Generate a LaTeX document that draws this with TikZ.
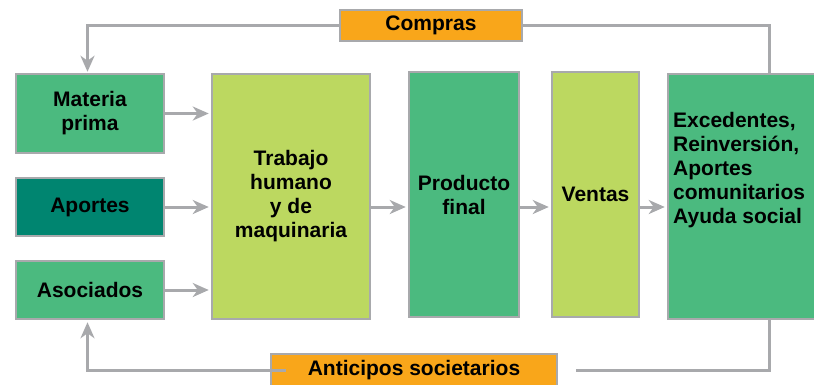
\documentclass[tikz,border=0pt]{standalone}
\usepackage{fontspec}
\setmainfont{Liberation Sans}
\usetikzlibrary{arrows.meta}
\definecolor{verde}{RGB}{75,186,127}
\definecolor{verdeosc}{RGB}{0,133,112}
\definecolor{lima}{RGB}{188,216,96}
\definecolor{naranja}{RGB}{249,166,26}
\definecolor{gris}{RGB}{168,169,172}
\tikzset{
caja/.style={draw=gris,line width=2.5pt,inner sep=0pt,align=center,
  font=\bfseries\fontsize{21}{24}\selectfont},
texto/.style={inner sep=0pt,align=left,font=\bfseries\fontsize{21}{24}\selectfont},
linea/.style={draw=gris,line width=3pt},
flecha/.style={linea,-{Stealth[length=16pt,width=14pt,inset=5pt]},shorten >=2pt}
}
\begin{document}
\begin{tikzpicture}[x=1pt,y=-1pt]
\useasboundingbox (0,0) rectangle (814,384);

\node[caja,fill=verde,minimum width=148pt,minimum height=79pt] (mat) at (90,113.5) {Materia\\prima};
\node[caja,fill=verdeosc,minimum width=148pt,minimum height=58pt] (apo) at (90,207) {Aportes};
\node[caja,fill=verde,minimum width=148pt,minimum height=58pt] (aso) at (90,290) {Asociados};
\node[caja,fill=lima,minimum width=158pt,minimum height=245pt] (trab) at (291,196.5) {Trabajo\\humano\\y de\\maquinaria};
\node[caja,fill=verde,minimum width=110pt,minimum height=245pt] (prod) at (464,194.5) {Producto\\final};
\node[caja,fill=lima,minimum width=87pt,minimum height=245pt] (ven) at (595.5,194.5) {Ventas};
\node[caja,fill=verde,minimum width=156pt,minimum height=245pt] (exc) at (746,196.5) {};
\node[texto,anchor=north west] (exctexto) at (673,112) {Excedentes,\\Reinversión,\\Aportes\\comunitarios\\Ayuda social};
\node[caja,fill=naranja,minimum width=182pt,minimum height=31pt] (comp) at (431,25.5) {Compras};
\node[caja,fill=naranja,minimum width=286pt,minimum height=32pt] (anti) at (414,370) {Anticipos societarios};

\coordinate (fila) at (0,207);
\coordinate (der) at (769,0);

\draw[flecha] (mat.east) -- (trab.west |- mat.east);
\draw[flecha] (apo.east) -- (trab.west |- apo.east);
\draw[flecha] (aso.east) -- (trab.west |- aso.east);
\draw[flecha] (trab.east |- fila) -- (prod.west |- fila);
\draw[flecha] (prod.east |- fila) -- (ven.west |- fila);
\draw[flecha] (ven.east |- fila) -- (exc.west |- fila);

\draw[linea] (exc.north -| der) |- (comp.east);
\draw[flecha,shorten >=1pt] (comp.west) -| ([xshift=-2.5pt]mat.north);
\draw[linea] (exc.south -| der) |- ([xshift=18pt]anti.east);
\draw[flecha] ([xshift=16pt]anti.west) -| ([xshift=-2.5pt]aso.south);
\end{tikzpicture}
\end{document}
